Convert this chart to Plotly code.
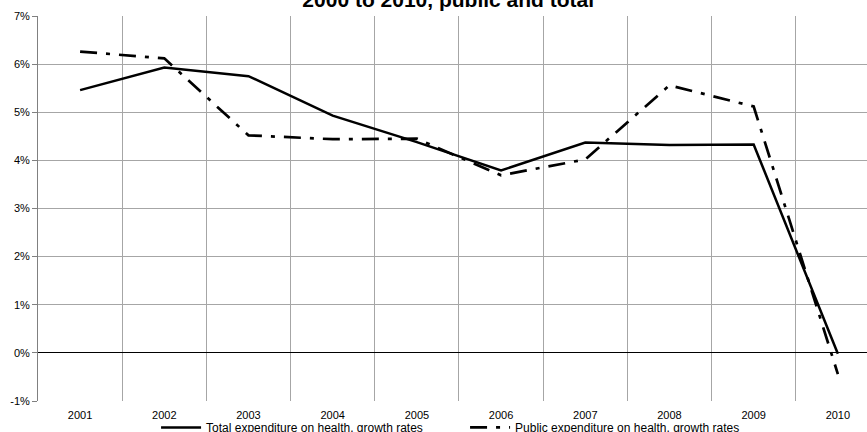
import plotly.graph_objects as go

years = ["2001", "2002", "2003", "2004", "2005", "2006", "2007", "2008", "2009", "2010"]
total_growth = [5.46, 5.93, 5.75, 4.93, 4.38, 3.79, 4.37, 4.32, 4.33, -0.02]
public_growth = [6.26, 6.12, 4.52, 4.44, 4.45, 3.69, 4.02, 5.56, 5.12, -0.44]

y_ticks = [-1, 0, 1, 2, 3, 4, 5, 6, 7]

FONT = "Liberation Sans, Arial, sans-serif"

fig = go.Figure()
fig.add_trace(go.Scatter(
    x=years, y=total_growth, mode="lines",
    name="Total expenditure on health, growth rates",
    line=dict(color="#000000", width=2.5),
))
fig.add_trace(go.Scatter(
    x=years, y=public_growth, mode="lines",
    name="Public expenditure on health, growth rates",
    line=dict(color="#000000", width=2.7, dash="17px,9px,4px,9px"),
))

fig.update_layout(
    width=867, height=432,
    margin=dict(l=38, r=0, t=16, b=31, autoexpand=False),
    paper_bgcolor="white", plot_bgcolor="white",
    font=dict(family=FONT, size=11, color="#000000"),
    title=dict(
        text="<b>2000 to 2010, public and total</b>",
        font=dict(family=FONT, size=21, color="#000000"),
        x=0.517, xanchor="center",
        y=1.0, yanchor="middle", yref="container",
    ),
    showlegend=True,
    legend=dict(
        orientation="h",
        xref="container", yref="container",
        x=0.18, xanchor="left",
        y=0.0105, yanchor="middle",
        font=dict(family=FONT, size=12, color="#000000"),
        itemwidth=40,
        entrywidth=254,
        bgcolor="rgba(0,0,0,0)",
    ),
    xaxis=dict(
        type="category",
        range=[-0.5, 9.346],
        tickson="boundaries",
        showgrid=True, gridcolor="#a6a6a6", gridwidth=1,
        ticks="", showline=False, zeroline=False,
        ticklabelstandoff=6,
        tickfont=dict(family=FONT, size=11, color="#000000"),
        fixedrange=True,
    ),
    yaxis=dict(
        range=[-1, 7],
        tickvals=y_ticks,
        ticktext=[f"{v}%" for v in y_ticks],
        showgrid=True, gridcolor="#a6a6a6", gridwidth=1,
        zeroline=True, zerolinecolor="#000000", zerolinewidth=1,
        showline=True, linecolor="#808080", linewidth=1,
        ticks="outside", ticklen=5, tickcolor="#808080",
        tickfont=dict(family=FONT, size=11, color="#000000"),
        fixedrange=True,
    ),
)

fig.write_html("out.html")
